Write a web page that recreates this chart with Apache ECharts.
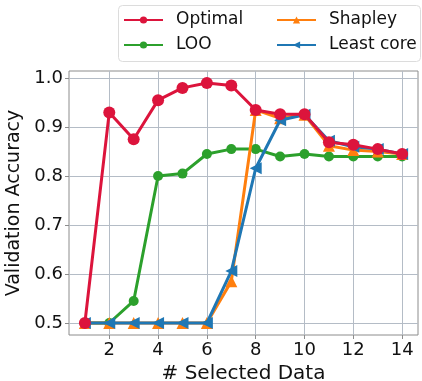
<!DOCTYPE html>
<html>
<head>
<meta charset="utf-8">
<script src="https://cdn.jsdelivr.net/npm/echarts@6/dist/echarts.min.js"></script>
<style>
  html, body { margin: 0; padding: 0; background: #fff; }
  #chart { width: 422px; height: 381px; }
</style>
</head>
<body>
<div id="chart"></div>
<script>
// 选择数据数量 vs 验证准确率
var xData = [1, 2, 3, 4, 5, 6, 7, 8, 9, 10, 11, 12, 13, 14];
var optimal = [0.5, 0.93, 0.875, 0.955, 0.98, 0.99, 0.985, 0.935, 0.926, 0.926, 0.869, 0.864, 0.855, 0.845];
var loo = [0.5, 0.5, 0.545, 0.8, 0.805, 0.845, 0.855, 0.855, 0.84, 0.845, 0.84, 0.84, 0.84, 0.84];
var shapley = [0.5, 0.5, 0.5, 0.5, 0.5, 0.5, 0.585, 0.935, 0.918, 0.925, 0.862, 0.853, 0.85, 0.845];
var leastCore = [0.5, 0.5, 0.5, 0.5, 0.5, 0.5, 0.606, 0.816, 0.914, 0.925, 0.872, 0.86, 0.855, 0.845];
var xTicks = [2, 4, 6, 8, 10, 12, 14];
var yTicks = [0.5, 0.6, 0.7, 0.8, 0.9, 1.0];

var myChart = echarts.init(document.getElementById("chart"));

function pairs(ys) {
  return xData.map(function (x, i) { return [x, ys[i]]; });
}

var font = "DejaVu Sans";
var gridColor = "#b4bcc6";
var spineColor = "#8c8c8c";

// 图例: 两列，每列一个竖排图例
function legendCol(left, names) {
  return {
    orient: "vertical",
    left: left,
    top: 10,
    padding: 0,
    itemWidth: 39,
    itemHeight: 9,
    itemGap: 5,
    textStyle: { fontFamily: font, fontSize: 17, lineHeight: 20, color: "#111", padding: [0, 0, 0, 8] },
    data: names
  };
}

var option = {
  animation: false,
  textStyle: { fontFamily: font },
  graphic: [{
    type: "rect",
    shape: { x: 118.5, y: 5.5, width: 302, height: 56, r: 4 },
    style: { fill: "#fff", stroke: "#dcdcdc", lineWidth: 1 },
    z: -1
  }],
  grid: {
    left: 69, right: 4, top: 71, bottom: 46,
    outerBoundsMode: "none",
    show: true, borderColor: spineColor, borderWidth: 1
  },
  legend: [
    legendCol(123, ["Optimal", "LOO"]),
    legendCol(276, ["Shapley", "Least core"])
  ],
  xAxis: {
    type: "value",
    min: 0.35,
    max: 14.65,
    name: "# Selected Data",
    nameLocation: "middle",
    nameGap: 25,
    nameTextStyle: { fontFamily: font, fontSize: 20, color: "#111" },
    axisLine: { show: false },
    axisTick: { show: true, inside: false, length: 4, customValues: xTicks, lineStyle: { color: spineColor } },
    axisLabel: { customValues: xTicks, fontSize: 18, color: "#111", margin: 6, fontFamily: font },
    splitLine: { show: true, lineStyle: { color: gridColor, width: 1 } }
  },
  yAxis: {
    type: "value",
    min: 0.4755,
    max: 1.0145,
    name: "Validation Accuracy",
    nameLocation: "middle",
    nameGap: 38,
    nameTextStyle: { fontFamily: font, fontSize: 19, color: "#111" },
    axisLine: { show: false },
    axisTick: { show: true, inside: false, length: 4, customValues: yTicks, lineStyle: { color: spineColor } },
    axisLabel: {
      customValues: yTicks, fontSize: 18, color: "#111", margin: 6, fontFamily: font,
      formatter: function (v) { return v.toFixed(1); }
    },
    splitLine: { show: true, lineStyle: { color: gridColor, width: 1 } }
  },
  series: [
    {
      name: "Optimal", type: "line", data: pairs(optimal), z: 5,
      symbol: "circle", symbolSize: 12,
      lineStyle: { color: "#dc143c", width: 3 },
      itemStyle: { color: "#dc143c" }
    },
    {
      name: "LOO", type: "line", data: pairs(loo), z: 2,
      symbol: "circle", symbolSize: 10,
      lineStyle: { color: "#2ca02c", width: 3 },
      itemStyle: { color: "#2ca02c" }
    },
    {
      name: "Shapley", type: "line", data: pairs(shapley), z: 3,
      symbol: "triangle", symbolSize: 12,
      lineStyle: { color: "#ff7f0e", width: 3 },
      itemStyle: { color: "#ff7f0e" }
    },
    {
      name: "Least core", type: "line", data: pairs(leastCore), z: 4,
      symbol: "triangle", symbolSize: 12, symbolRotate: 90,
      lineStyle: { color: "#1f77b4", width: 3 },
      itemStyle: { color: "#1f77b4" }
    }
  ]
};

myChart.setOption(option);
</script>
</body>
</html>
